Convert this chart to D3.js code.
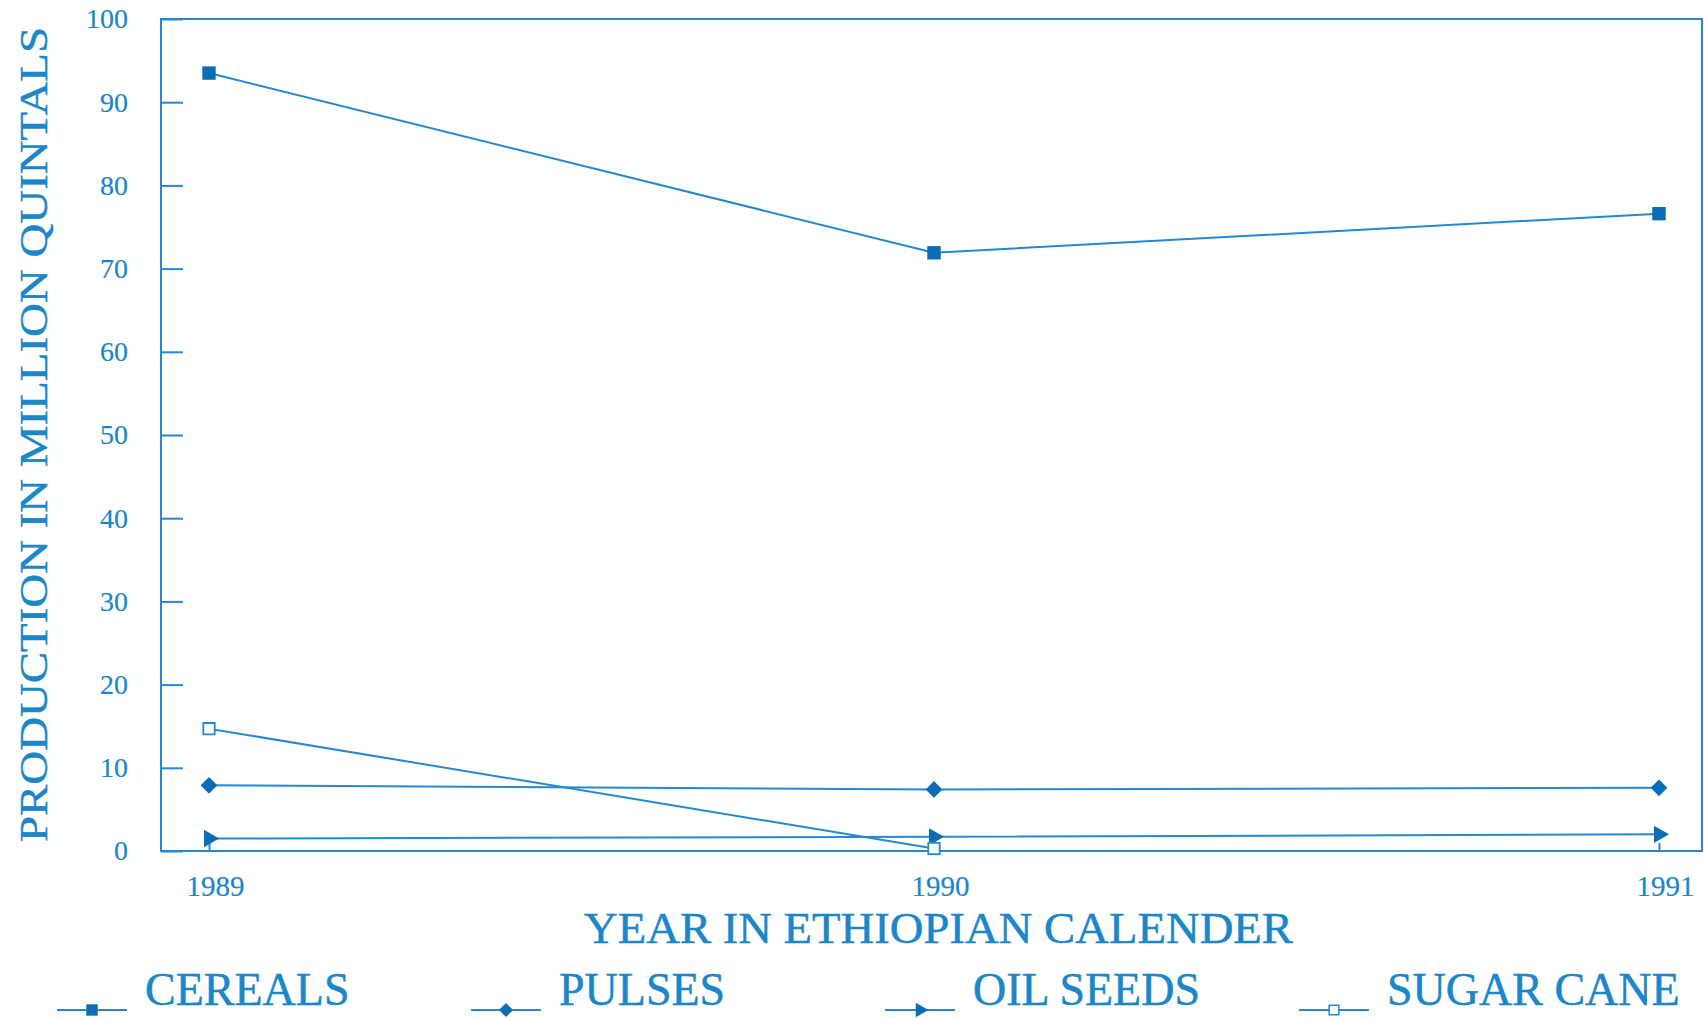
<!DOCTYPE html>
<html>
<head>
<meta charset="utf-8">
<script src="https://cdn.jsdelivr.net/npm/d3@7"></script>
<style>
  html, body { margin: 0; padding: 0; background: #ffffff; }
  svg { display: block; }
</style>
</head>
<body>
<script>
// ---- data ----
const years = ["1989", "1990", "1991"];
const cereals = [93.5, 71.9, 76.6];
const pulses = [7.9, 7.4, 7.6];
const oilSeeds = [1.5, 1.7, 2.0];
const sugarCane = [14.7, 0.3, null];
const seriesNames = ["CEREALS", "PULSES", "OIL SEEDS", "SUGAR CANE"];
const yTicks = [0, 10, 20, 30, 40, 50, 60, 70, 80, 90, 100];
const yTitle = "PRODUCTION IN MILLION QUINTALS";
const xTitle = "YEAR IN ETHIOPIAN CALENDER";

// ---- style ----
const W = 1704, H = 1019;
const FONT = "Liberation Serif";
const textColor = "#1b86c8";
const lineColor = "#2489d2";
const markColor = "#0b6db6";
const pLeft = 161, pRight = 1702, pTop = 19, pBottom = 851;

const svg = d3.select("body").append("svg").attr("width", W).attr("height", H)
  .attr("font-family", FONT);

const x = d3.scalePoint().domain(years).range([209, 1659]);
const y = d3.scaleLinear().domain([0, 100]).range([pBottom, pTop]);

// frame
svg.append("rect")
  .attr("x", pLeft).attr("y", pTop)
  .attr("width", pRight - pLeft).attr("height", pBottom - pTop)
  .attr("fill", "none").attr("stroke", lineColor).attr("stroke-width", 2);

// y axis
const yAxis = svg.append("g").attr("transform", `translate(${pLeft},0)`)
  .call(d3.axisLeft(y).tickValues(yTicks).tickSizeInner(-22).tickSizeOuter(0).tickPadding(33));
yAxis.attr("font-family", FONT);
yAxis.select(".domain").remove();
yAxis.selectAll(".tick line").attr("stroke", lineColor).attr("stroke-width", 2);
yAxis.selectAll(".tick text").attr("fill", textColor).attr("font-size", 28)
  .attr("font-family", FONT).attr("stroke", textColor).attr("stroke-width", 0.2);

// x axis
const xAxis = svg.append("g").attr("transform", `translate(0,${pBottom})`)
  .call(d3.axisBottom(x).tickSizeInner(-8).tickSizeOuter(0).tickPadding(24));
xAxis.attr("font-family", FONT);
xAxis.select(".domain").remove();
xAxis.selectAll(".tick line").attr("stroke", lineColor).attr("stroke-width", 2);
xAxis.selectAll(".tick text").attr("fill", textColor).attr("font-size", 29)
  .attr("font-family", FONT).attr("dx", 6)
  .attr("stroke", textColor).attr("stroke-width", 0.2);

// titles
svg.append("text")
  .attr("transform", `translate(47,${(27 + 842) / 2}) rotate(-90)`)
  .attr("text-anchor", "middle")
  .attr("font-family", FONT)
  .attr("fill", textColor).attr("font-size", 41)
  .attr("stroke", textColor).attr("stroke-width", 0.45)
  .attr("textLength", 815).attr("lengthAdjust", "spacingAndGlyphs")
  .text(yTitle);

svg.append("text")
  .attr("x", (584 + 1293) / 2).attr("y", 943)
  .attr("text-anchor", "middle")
  .attr("font-family", FONT)
  .attr("fill", textColor).attr("font-size", 45)
  .attr("stroke", textColor).attr("stroke-width", 0.5)
  .attr("textLength", 709).attr("lengthAdjust", "spacingAndGlyphs")
  .text(xTitle);

// markers
const markers = [
  { path: d3.symbol().type(d3.symbolSquare).size(180)(), rot: 0, fill: markColor, stroke: "none" },
  { path: d3.symbol().type(d3.symbolSquare).size(140)(), rot: 45, fill: markColor, stroke: "none" },
  { path: d3.symbol().type(d3.symbolTriangle).size(130)(), rot: 90, fill: markColor, stroke: "none" },
  { path: d3.symbol().type(d3.symbolSquare).size(130)(), rot: 0, fill: "#ffffff", stroke: lineColor }
];

const allSeries = [cereals, pulses, oilSeeds, sugarCane];
const line = d3.line()
  .defined(d => d.v !== null)
  .x(d => x(d.year)).y(d => y(d.v));

allSeries.forEach((vals, i) => {
  const pts = years.map((yr, j) => ({ year: yr, v: vals[j] }));
  svg.append("path").datum(pts)
    .attr("d", line).attr("fill", "none")
    .attr("stroke", lineColor).attr("stroke-width", 2);
  const m = markers[i];
  svg.selectAll(null).data(pts.filter(d => d.v !== null)).enter().append("path")
    .attr("d", m.path)
    .attr("transform", d => `translate(${x(d.year)},${y(d.v)}) rotate(${m.rot})`)
    .attr("fill", m.fill).attr("stroke", m.stroke).attr("stroke-width", 1.8);
});

// legend
const leg = svg.append("g");
seriesNames.forEach((name, i) => {
  const x0 = 57 + i * 414;
  const g = leg.append("g").attr("transform", `translate(${x0},1010)`);
  g.append("line").attr("x1", 0).attr("x2", 70).attr("y1", 0).attr("y2", 0)
    .attr("stroke", lineColor).attr("stroke-width", 2);
  const m = markers[i];
  g.append("path").attr("d", m.path)
    .attr("transform", `translate(35,0) rotate(${m.rot}) scale(0.85)`)
    .attr("fill", m.fill).attr("stroke", m.stroke).attr("stroke-width", 1.8);
  g.append("text").attr("x", 88).attr("y", -5)
    .attr("font-family", FONT)
    .attr("fill", textColor).attr("font-size", 46)
    .attr("stroke", textColor).attr("stroke-width", 0.5)
    .text(name);
});
</script>
</body>
</html>
